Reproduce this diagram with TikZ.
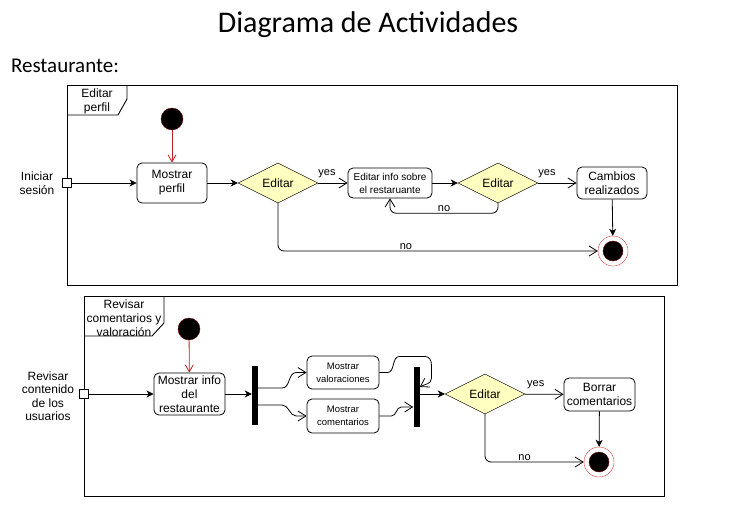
\documentclass[tikz,border=0pt]{standalone}
\usepackage{fontspec}
\setmainfont{Liberation Sans}
\newfontfamily\calibri{Carlito}
\usetikzlibrary{shapes.geometric, arrows.meta, positioning, calc}
\definecolor{decfill}{RGB}{255,255,192}
\definecolor{startred}{RGB}{110,0,0}
\definecolor{arrred}{RGB}{190,30,30}
\definecolor{ringred}{RGB}{220,60,60}

\begin{document}
\begin{tikzpicture}[x=1pt, y=-1pt,
  act/.style={draw, rounded corners=5pt, line width=0.8pt, align=center, inner sep=0pt, font=\fontsize{12}{14}\selectfont},
  smallact/.style={act, font=\fontsize{9.5}{13}\selectfont},
  dec/.style={diamond, draw, fill=decfill, aspect=2, minimum width=80pt, minimum height=40pt, inner sep=0pt, font=\fontsize{12}{14}\selectfont},
  ini/.style={circle, fill=black, draw=startred, minimum size=22pt, inner sep=0pt},
  fin/.style={circle, draw=ringred, fill=white, minimum size=30pt, inner sep=0pt, path picture={\fill[black, draw=startred] (path picture bounding box.center) circle (10pt);}},
  bar/.style={fill=black, minimum width=6pt, minimum height=59pt, inner sep=0pt},
  port/.style={draw, fill=white, minimum size=9pt, inner sep=0pt},
  lbl/.style={font=\fontsize{12}{14}\selectfont, align=center},
  edgelbl/.style={font=\fontsize{11}{13}\selectfont, inner sep=1pt},
  fillarr/.style={-{Stealth[length=7pt,width=7pt,inset=2pt]}, line width=0.8pt},
  openarr/.style={-{Straight Barb[length=8pt,width=10pt]}, line width=0.8pt},
  redarr/.style={-{Straight Barb[length=7pt,width=8pt]}, draw=arrred, line width=0.8pt},
  pane/.style={line width=0.9pt}
]
\useasboundingbox (0,0) rectangle (736,527);

\node[font=\calibri\fontsize{30}{34}\selectfont] (title) at (368,25) {Diagrama de Actividades};
\node[font=\calibri\fontsize{21}{24}\selectfont] (rest) at (65,66) {Restaurante:};

% editar perfil
\draw[pane] (67,85) rectangle (677,285);
\draw[pane] (67,115) -- (118,115) -- (127,99) -- (127,85);
\node[lbl] (tab1) at (97,101) {Editar\\perfil};

\node[lbl] (sesion) at (37,183) {Iniciar\\sesión};
\node[port] (port1) at (67,183) {};
\node[ini] (ini1) at (172,119) {};
\node[act, minimum width=70pt, minimum height=40pt] (perfil) at (172,183) {Mostrar\\perfil};
\node[dec] (dec1) at (278,183) {Editar};
\node[smallact, font=\fontsize{10}{13}\selectfont, minimum width=84pt, minimum height=30pt] (info) at (390,183) {Editar info sobre\\el restaruante};
\node[dec] (dec2) at (498,183) {Editar};
\node[act, minimum width=70pt, minimum height=32pt] (cambios) at (612,183) {Cambios\\realizados};
\node[fin] (fin1) at (613,251) {};

\draw[fillarr] (port1) -- (perfil);
\draw[redarr] (ini1) -- (perfil);
\draw[fillarr] (perfil) -- (dec1);
\draw[openarr] (dec1) -- node[edgelbl, pos=0.3, above=4pt] {yes} (info);
\draw[fillarr] (info) -- (dec2);
\draw[openarr, rounded corners=6pt] (dec2.south) -- ++(0,10) -| node[edgelbl, pos=0.25, above] {no} (info.south);
\draw[openarr] (dec2) -- node[edgelbl, pos=0.23, above=4pt] {yes} (cambios);
\draw[fillarr] (cambios) -- (fin1);
\draw[openarr, rounded corners=6pt] (dec1.south) |- node[edgelbl, pos=0.7, above] {no} (fin1.west);

% revisar comentarios
\draw[pane] (84,296) rectangle (664,496);
\draw[pane] (84,336) -- (152,336) -- (164,323) -- (164,296);
\node[lbl] (tab2) at (124,318) {Revisar\\comentarios y\\valoración};

\node[lbl, font=\fontsize{12}{13.5}\selectfont] (contenido) at (48,396) {Revisar\\contenido\\de los\\usuarios};
\node[port] (port2) at (84,394) {};
\node[ini] (ini2) at (189,329) {};
\node[act, minimum width=71pt, minimum height=42pt] (info2) at (189.5,394) {Mostrar info\\del\\restaurante};
\node[bar] (bar1) at (255,395.5) {};
\node[smallact, minimum width=72pt, minimum height=33pt] (valor) at (343,372.5) {Mostrar\\valoraciones};
\node[smallact, minimum width=72pt, minimum height=34pt] (coment) at (343,416) {Mostrar\\comentarios};
\node[bar, minimum height=60pt] (bar2) at (416.5,397) {};
\node[dec] (dec3) at (485,394) {Editar};
\node[act, minimum width=71pt, minimum height=33pt] (borrar) at (599.5,394.5) {Borrar\\comentarios};
\node[fin] (fin2) at (599,462) {};

\draw[fillarr] (port2) -- (info2);
\draw[redarr] (ini2) -- (info2);
\draw[fillarr] (info2.east) -- (info2.east -| bar1.west);
\draw[openarr] ($(bar1.east)+(0,-7.5)$) -- ++(24,0) to[out=0,in=180] ++(14,-15.5) -- (valor.west);
\draw[openarr] ($(bar1.east)+(0,9.5)$) -- ++(24,0) to[out=0,in=180] ++(14,11) -- (coment.west);
\draw[openarr] (valor.east) -- ++(8,0) to[out=0,in=180] ++(12,-16) -- ++(26,0) to[out=0,in=90] ++(6,8) -- ++(0,14) to[out=270,in=30] ($(bar2.east)+(0,-10)$);
\draw[openarr] (coment.east) -- ++(12,0) to[out=0,in=180] ($(bar2.west)+(-12,10)$) -- ($(bar2.west)+(0,10)$);
\draw[fillarr] (dec3.west -| bar2.east) -- (dec3.west);
\draw[openarr] (dec3) -- node[edgelbl, pos=0.28, above=4pt] {yes} (borrar);
\draw[fillarr] (borrar) -- (fin2);
\draw[openarr, rounded corners=6pt] (dec3.south) |- node[edgelbl, pos=0.7, above] {no} (fin2.west);
\end{tikzpicture}
\end{document}
